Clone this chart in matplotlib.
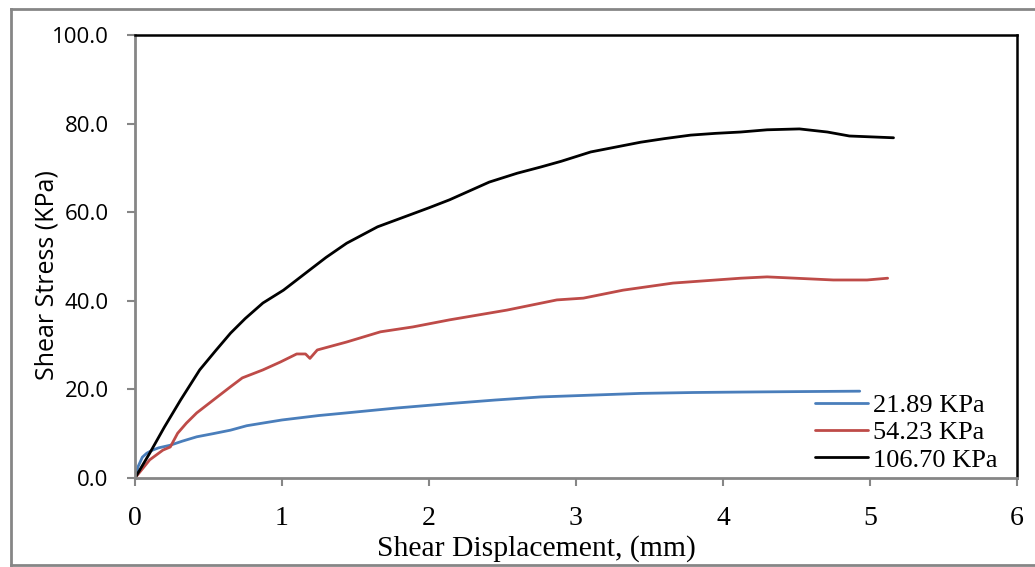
import matplotlib
matplotlib.use("Agg")
import matplotlib.pyplot as plt
from matplotlib.lines import Line2D

# ---- data ----
blue_x = [0, 0.02, 0.05, 0.08, 0.12, 0.16, 0.24, 0.32, 0.42, 0.53, 0.65, 0.76, 0.87,
          1.00, 1.10, 1.25, 1.44, 1.78, 2.14, 2.45, 2.76, 3.10, 3.44, 3.80, 4.12,
          4.50, 4.93]
blue_y = [0, 2.5, 4.7, 5.6, 6.3, 6.8, 7.4, 8.3, 9.3, 10.0, 10.8, 11.8, 12.4,
          13.1, 13.5, 14.1, 14.7, 15.8, 16.8, 17.6, 18.3, 18.7, 19.1, 19.3, 19.4,
          19.5, 19.6]

red_x = [0, 0.10, 0.19, 0.24, 0.29, 0.35, 0.42, 0.56, 0.65, 0.73, 0.87, 0.99, 1.10,
         1.16, 1.19, 1.24, 1.44, 1.67, 1.89, 2.14, 2.53, 2.87, 3.05, 3.32, 3.66,
         4.12, 4.30, 4.75, 4.98, 5.12]
red_y = [0, 4.1, 6.3, 7.0, 10.1, 12.4, 14.7, 18.3, 20.6, 22.6, 24.4, 26.2, 28.0,
         28.0, 27.0, 28.9, 30.7, 33.0, 34.1, 35.7, 37.9, 40.2, 40.6, 42.4, 44.0,
         45.1, 45.4, 44.7, 44.7, 45.1]

black_x = [0, 0.10, 0.20, 0.31, 0.44, 0.55, 0.65, 0.75, 0.87, 1.01, 1.19, 1.30, 1.44,
           1.65, 1.87, 2.00, 2.14, 2.41, 2.60, 2.76, 2.90, 3.10, 3.44, 3.60, 3.78,
           3.95, 4.12, 4.30, 4.52, 4.71, 4.86, 5.16]
black_y = [0, 5.6, 11.5, 17.6, 24.4, 28.8, 32.7, 36.0, 39.5, 42.4, 47.0, 49.8, 53.0,
           56.7, 59.4, 61.0, 62.8, 66.8, 68.8, 70.2, 71.5, 73.6, 75.8, 76.6, 77.4,
           77.8, 78.1, 78.6, 78.8, 78.1, 77.2, 76.8]

series_labels = ["21.89 KPa", "54.23 KPa", "106.70 KPa"]
series_colors = ["#4A7EBB", "#BE4B48", "#000000"]

x_ticks = [0, 1, 2, 3, 4, 5, 6]
y_ticks = [0, 20, 40, 60, 80, 100]
y_tick_labels = ["0.0", "20.0", "40.0", "60.0", "80.0", "100.0"]

SERIF = "Liberation Serif"
SANS = "Open Sans"
GRAY = "#868686"
W, H = 1035, 567

fig = plt.figure(figsize=(W / 100, H / 100), dpi=100)
ax = fig.add_axes([135 / W, 1 - 478 / H, (1017 - 135) / W, (478 - 35) / H])

for xs, ys, lab, col in zip([blue_x, red_x, black_x], [blue_y, red_y, black_y],
                            series_labels, series_colors):
    ax.plot(xs, ys, color=col, lw=2.0, label=lab, solid_capstyle="round",
            solid_joinstyle="round")

ax.set_xlim(0, 6)
ax.set_ylim(0, 100)
ax.set_xticks(x_ticks)
ax.set_xticklabels([str(t) for t in x_ticks], fontfamily=SERIF, fontsize=20)
ax.set_yticks(y_ticks)
ax.set_yticklabels(y_tick_labels, fontfamily=SANS, fontsize=16)

ax.tick_params(axis="both", direction="out", length=6, width=1.5, color=GRAY)
ax.tick_params(axis="y", pad=13)
ax.tick_params(axis="x", pad=14)

for side in ["left", "bottom"]:
    ax.spines[side].set_color(GRAY)
    ax.spines[side].set_linewidth(2)
for side in ["top", "right"]:
    ax.spines[side].set_color("black")
    ax.spines[side].set_linewidth(1.8)

# axis titles (positioned as in the reference, which are off-centre)
fig.text(536 / W, 1 - 549 / H, "Shear Displacement, (mm)", fontfamily=SERIF,
         fontsize=21.3, ha="center", va="center")
fig.text(47 / W, 1 - 275 / H, "Shear Stress (KPa)", fontfamily=SANS,
         fontsize=18, rotation=90, ha="center", va="center")

ax.legend(loc="upper left", bbox_to_anchor=(0.771, 0.19), frameon=False,
          prop={"family": SERIF, "size": 19}, handlelength=2.0,
          handletextpad=0.2, labelspacing=0.14, borderpad=0, borderaxespad=0)

# outer chart-area border
border_kw = dict(color=GRAY, lw=2, transform=fig.transFigure, clip_on=False)
fig.add_artist(Line2D([11 / W, 11 / W], [1 - 9 / H, 1 - 565 / H], **border_kw))
fig.add_artist(Line2D([11 / W, 1.0], [1 - 9 / H, 1 - 9 / H], **border_kw))
fig.add_artist(Line2D([11 / W, 1.0], [1 - 565 / H, 1 - 565 / H], **border_kw))

fig.savefig("out.png", dpi=100)
